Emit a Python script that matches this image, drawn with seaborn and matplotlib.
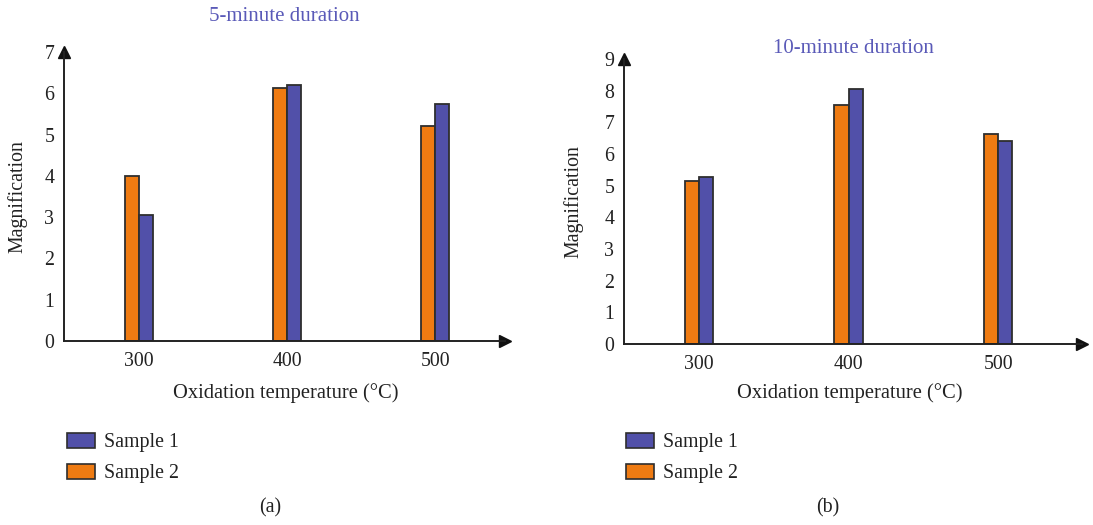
import matplotlib
matplotlib.use("Agg")
import matplotlib.pyplot as plt
import matplotlib.patches as mpatches
import seaborn as sns
import pandas as pd

temps = ["300", "400", "500"]
sample1_5min = [3.05, 6.21, 5.73]
sample2_5min = [4.00, 6.12, 5.21]
sample1_10min = [5.28, 8.04, 6.41]
sample2_10min = [5.15, 7.56, 6.62]
series_names = ["Sample 1", "Sample 2"]
titles = ["5-minute duration", "10-minute duration"]
panel_tags = ["(a)", "(b)"]

sns.set_theme(style="white")
plt.rcParams["font.family"] = ["Liberation Serif", "DejaVu Serif"]

BLUE = "#5150a9"
ORANGE = "#ef7b12"
EDGE = "#2e2e2e"
TITLE_C = "#5a5ab8"
TXT = "#222222"
FS = 14.3

def make_df(s1, s2):
    rows = []
    for t, a, b in zip(temps, s1, s2):
        rows.append({"temp": t, "sample": series_names[1], "val": b})
        rows.append({"temp": t, "sample": series_names[0], "val": a})
    return pd.DataFrame(rows)

fig = plt.figure(figsize=(10.93, 5.25), dpi=100)
axA = fig.add_axes([64/1093, 1-341/525, (505-64)/1093, (341-52)/525])
axB = fig.add_axes([624/1093, 1-344/525, (1082-624)/1093, (344-59)/525])

panels = [
    (axA, make_df(sample1_5min, sample2_5min), 7, (-0.507, 2.47), 22, (-0.084, 0.5), (0.502, -0.145)),
    (axB, make_df(sample1_10min, sample2_10min), 9, (-0.50, 2.56), 4, (-0.0895, 0.5), (0.493, -0.137)),
]

for i, (ax, df, ymax, xl, tpad, ylc, xlc) in enumerate(panels):
    sns.barplot(data=df, x="temp", y="val", hue="sample", order=temps,
                hue_order=[series_names[1], series_names[0]],
                palette={series_names[0]: BLUE, series_names[1]: ORANGE},
                width=0.19, gap=0, edgecolor=EDGE, linewidth=1.3,
                saturation=1, legend=False, ax=ax)
    ax.set_ylim(0, ymax)
    ax.set_xlim(*xl)
    ax.set_yticks(range(0, ymax + 1))
    ax.tick_params(axis="both", length=0, labelsize=FS, colors=TXT)
    ax.tick_params(axis="x", pad=8)
    ax.tick_params(axis="y", pad=7)
    for s in ["top", "right"]:
        ax.spines[s].set_visible(False)
    for s in ["left", "bottom"]:
        ax.spines[s].set_color("#222222")
        ax.spines[s].set_linewidth(1.4)
    ax.plot([0], [1], marker="^", markersize=9, color="#111111",
            transform=ax.transAxes, clip_on=False)
    ax.plot([1], [0], marker=">", markersize=9, color="#111111",
            transform=ax.transAxes, clip_on=False)
    ax.set_title(titles[i], color=TITLE_C, fontsize=15, pad=tpad)
    ax.set_ylabel("Magnification", fontsize=FS, color=TXT)
    ax.set_xlabel("Oxidation temperature (°C)", fontsize=FS + 0.5, color=TXT)
    ax.yaxis.set_label_coords(*ylc)
    ax.xaxis.set_label_coords(*xlc)
    ax.xaxis.label.set_va("top")

    handles = [mpatches.Patch(facecolor=BLUE, edgecolor=EDGE, linewidth=1.2),
               mpatches.Patch(facecolor=ORANGE, edgecolor=EDGE, linewidth=1.2)]
    lx = 67/1093 if i == 0 else 626/1093
    fig.legend(handles, series_names, loc="upper left",
               bbox_to_anchor=(lx, 1-433/525), frameon=False, fontsize=FS,
               handlelength=1.4, handleheight=0.8, handletextpad=0.45,
               labelspacing=0.56, borderpad=0, borderaxespad=0,
               labelcolor=TXT)
    fig.text((270 if i == 0 else 828)/1093, 1-508/525, panel_tags[i],
             ha="center", va="center", fontsize=FS, color=TXT)

fig.savefig("out.png", dpi=100)
